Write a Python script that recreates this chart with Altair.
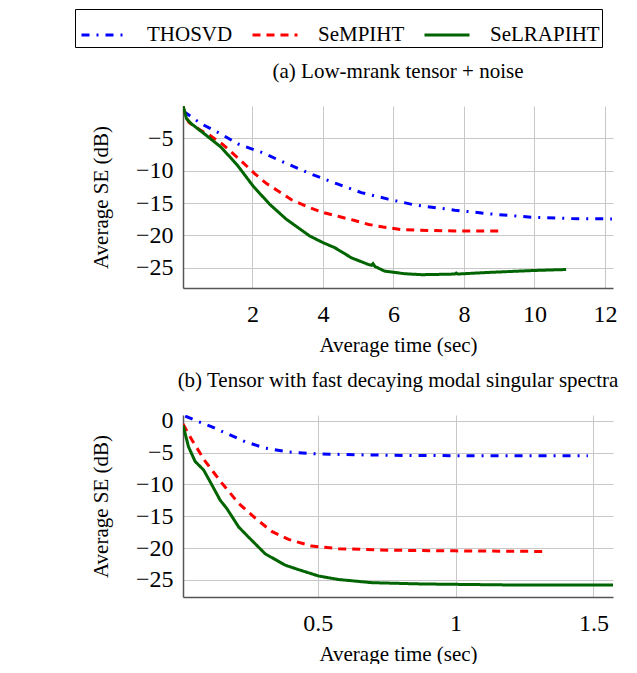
import altair as alt
import pandas as pd

series = ["THOSVD", "SeMPIHT", "SeLRAPIHT"]
colors = ["#0000ff", "#ff0000", "#006400"]
dashes = [[8, 7, 2, 7], [8, 6], [1, 0]]

# Panel (a): Low-mrank tensor + noise
a_thosvd_t = [0.05, 0.55, 1.12, 1.59, 2.26, 2.92, 3.67, 4.43, 5.09, 5.85, 6.6, 7.74, 8.69, 9.91, 11.05, 12.2]
a_thosvd_se = [-0.9, -2.8, -4.4, -5.9, -7.2, -8.8, -10.55, -12.1, -13.4, -14.4, -15.3, -16.1, -16.65, -17.2, -17.4, -17.45]
a_sempiht_t = [0.03, 0.1, 0.2, 0.5, 0.8, 1.14, 1.64, 2.07, 2.4, 2.73, 3.11, 3.53, 3.96, 4.43, 4.9, 5.3, 5.71, 6.23, 6.7, 7.74, 9.02]
a_sempiht_se = [0.0, -1.6, -2.6, -3.7, -4.6, -5.9, -8.3, -10.5, -12.0, -13.15, -14.5, -15.5, -16.4, -17.05, -17.7, -18.3, -18.7, -19.1, -19.2, -19.3, -19.3]
a_selrapiht_t = [0.03, 0.13, 0.27, 0.65, 1.12, 1.59, 2.02, 2.49, 2.96, 3.63, 4.0, 4.34, 4.81, 5.3, 5.38, 5.42, 5.48, 5.75, 6.32, 6.8, 7.3, 7.74, 7.78, 7.82, 8.69, 10.0, 10.9]
a_selrapiht_se = [0.0, -2.0, -2.8, -4.4, -6.45, -9.3, -12.4, -15.2, -17.5, -20.1, -21.1, -21.9, -23.45, -24.5, -24.6, -24.35, -24.8, -25.5, -25.9, -26.05, -26.0, -25.95, -25.8, -25.95, -25.7, -25.4, -25.25]

# Panel (b): Tensor with fast decaying modal singular spectra
b_thosvd_t = [0.019, 0.068, 0.116, 0.164, 0.237, 0.309, 0.394, 0.49, 0.635, 0.816, 1.058, 1.3, 1.48]
b_thosvd_se = [0.73, -0.16, -0.95, -1.9, -3.3, -4.3, -4.9, -5.2, -5.35, -5.45, -5.5, -5.5, -5.5]
b_sempiht_t = [0.011, 0.043, 0.092, 0.152, 0.213, 0.273, 0.333, 0.394, 0.478, 0.575, 0.756, 0.997, 1.336]
b_sempiht_se = [-0.5, -3.0, -6.4, -9.8, -13.0, -15.3, -17.4, -18.65, -19.7, -20.1, -20.35, -20.45, -20.55]
b_selrapiht_t = [0.011, 0.031, 0.055, 0.086, 0.116, 0.146, 0.17, 0.213, 0.249, 0.309, 0.333, 0.382, 0.43, 0.503, 0.575, 0.696, 0.877, 1.18, 1.571]
b_selrapiht_se = [-0.7, -4.1, -6.4, -7.75, -10.1, -12.5, -13.8, -16.7, -18.3, -20.9, -21.5, -22.7, -23.4, -24.4, -24.95, -25.45, -25.65, -25.8, -25.8]

a_xticks = [2, 4, 6, 8, 10, 12]
a_yticks = [-25, -20, -15, -10, -5]
b_xticks = [0.5, 1, 1.5]
b_yticks = [-25, -20, -15, -10, -5, 0]


def frame(groups):
    rows = []
    for name, ts, ses in groups:
        for i, (t, s) in enumerate(zip(ts, ses)):
            rows.append({"method": name, "t": t, "se": s, "i": i})
    return pd.DataFrame(rows)


df_a = frame([
    ("THOSVD", a_thosvd_t, a_thosvd_se),
    ("SeMPIHT", a_sempiht_t, a_sempiht_se),
    ("SeLRAPIHT", a_selrapiht_t, a_selrapiht_se),
])
df_b = frame([
    ("THOSVD", b_thosvd_t, b_thosvd_se),
    ("SeMPIHT", b_sempiht_t, b_sempiht_se),
    ("SeLRAPIHT", b_selrapiht_t, b_selrapiht_se),
])

legend = alt.Legend(
    orient="none", legendX=-108, legendY=-97, direction="horizontal", columns=3,
    title=None, symbolType="stroke", symbolSize=2025, symbolStrokeWidth=3,
    labelFont="Liberation Serif", labelFontSize=21, labelColor="black",
    labelOffset=19, columnPadding=13, padding=2, symbolOffset=3, strokeColor="black",
    labelLimit=0,
)


def panel(df, title, xdom, xticks, xfmt, ydom, yticks, toff):
    return alt.Chart(df).mark_line(strokeWidth=3, clip=True).encode(
        x=alt.X("t:Q", scale=alt.Scale(domain=xdom, nice=False, zero=False),
                axis=alt.Axis(values=xticks, format=xfmt, title="Average time (sec)")),
        y=alt.Y("se:Q", scale=alt.Scale(domain=ydom, nice=False, zero=False),
                axis=alt.Axis(values=yticks, title="Average SE (dB)")),
        color=alt.Color("method:N", scale=alt.Scale(domain=series, range=colors), legend=legend),
        strokeDash=alt.StrokeDash("method:N", scale=alt.Scale(domain=series, range=dashes), legend=legend),
        order=alt.Order("i:Q"),
    ).properties(
        width=430, height=182,
        title=alt.TitleParams(title, anchor="middle", frame="group", font="Liberation Serif",
                              fontSize=21, fontWeight="normal", color="black", offset=toff),
    )


pa = panel(df_a, "(a) Low-mrank tensor + noise", [0.03, 12.23], a_xticks, "~g",
           [-28.1, -0.05], a_yticks, 24)
pb = panel(df_b, "(b) Tensor with fast decaying modal singular spectra", [0.011, 1.571], b_xticks, "~g",
           [-27.7, 0.9], b_yticks, 18)

chart = alt.vconcat(pa, pb, spacing=14).properties(
    padding={"left": 66, "top": 0, "right": 0, "bottom": 0}
).configure_view(stroke=None).configure_axis(
    labelFont="Liberation Serif", labelFontSize=24, labelColor="black",
    titleFont="Liberation Serif", titleFontSize=21, titleFontWeight="normal", titleColor="black",
    gridColor="#c8c8c8", gridWidth=1, domainColor="#555555", domainWidth=1.5,
    ticks=False,
).configure_axisX(labelPadding=14, titlePadding=8).configure_axisY(labelPadding=10, titlePadding=24)

chart.save("out.html", embed_options={"renderer": "svg", "actions": False})
